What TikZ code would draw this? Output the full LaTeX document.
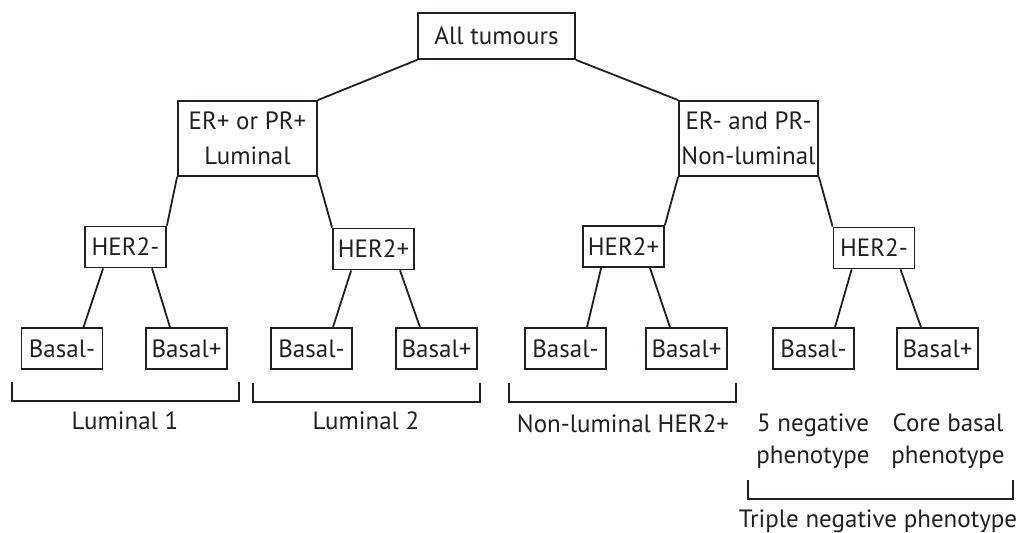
\documentclass[tikz,border=0pt]{standalone}
\usepackage{fontspec}
\setmainfont{PT Sans}
\usetikzlibrary{calc}
\definecolor{ink}{HTML}{231F20}

\begin{document}
\begin{tikzpicture}[x=0.5pt,y=-0.5pt,line width=0.9pt,draw=ink,text=ink,
  box/.style={draw,align=center,inner sep=0pt,font=\fontsize{12.5}{17.5}\selectfont},
  smallbox/.style={box,minimum width=40.5pt,minimum height=20.5pt},
  lbl/.style={align=center,inner sep=0pt,font=\fontsize{12.5}{16}\selectfont}]
\useasboundingbox (0,0) rectangle (1021,533);
% top levels
\node[box,minimum width=78.5pt,minimum height=23pt] (all) at (496.5,36) {All tumours};
\node[box,minimum width=69.5pt,minimum height=37.5pt] (er) at (247.5,138.5) {ER+ or PR+\\Luminal};
\node[box,minimum width=69.5pt,minimum height=37.5pt] (ner) at (748.5,138.5) {ER- and PR-\\Non-luminal};
% HER2 level
\node[smallbox] (h1) at (125.5,247) {HER2-};
\node[smallbox] (h2) at (373.5,249) {HER2+};
\node[smallbox] (h3) at (623.5,246.5) {HER2+};
\node[smallbox] (h4) at (874,248) {HER2-};
% basal level
\foreach \n/\x/\t in {b1/62/-,b2/186.5/+,b3/311.5/-,b4/436.5/+,b5/565.5/-,b6/686.5/+,b7/813.5/-,b8/937.5/+} {
\node[smallbox] (\n) at (\x,348.5) {Basal\t};
}
\draw (all.south west) -- (er.north east);
\draw (all.south east) -- (ner.north west);
\draw (er.south west) -- (h1.north east);
\draw (er.south east) -- (h2.north west);
\draw (ner.south west) -- (h3.north east);
\draw (ner.south east) -- (h4.north west);
\foreach \h/\l/\r in {h1/b1/b2,h2/b3/b4,h3/b5/b6,h4/b7/b8} {
\draw ($(\h.south west)!0.23!(\h.south east)$) -- ($(\l.north west)!0.76!(\l.north east)$);
\draw ($(\h.south west)!0.82!(\h.south east)$) -- ($(\r.north west)!0.3!(\r.north east)$);
}
% brackets
\foreach \a/\b/\y in {12/239/382,253/480/383,509/736/383,748/1013/480} {
\draw (\a,\y) -- (\a,\y+19) -- (\b,\y+19) -- (\b,\y);
}
\node[lbl] (lum1) at (125,421) {Luminal 1};
\node[lbl] (lum2) at (366,421) {Luminal 2};
\node[lbl] (nlh) at (623,424) {Non-luminal HER2+};
\node[lbl] (neg5) at (813,441) {5 negative\\phenotype};
\node[lbl] (core) at (948,441) {Core basal\\phenotype};
\node[lbl] (tn) at (878,521) {Triple negative phenotype};
\end{tikzpicture}
\end{document}
